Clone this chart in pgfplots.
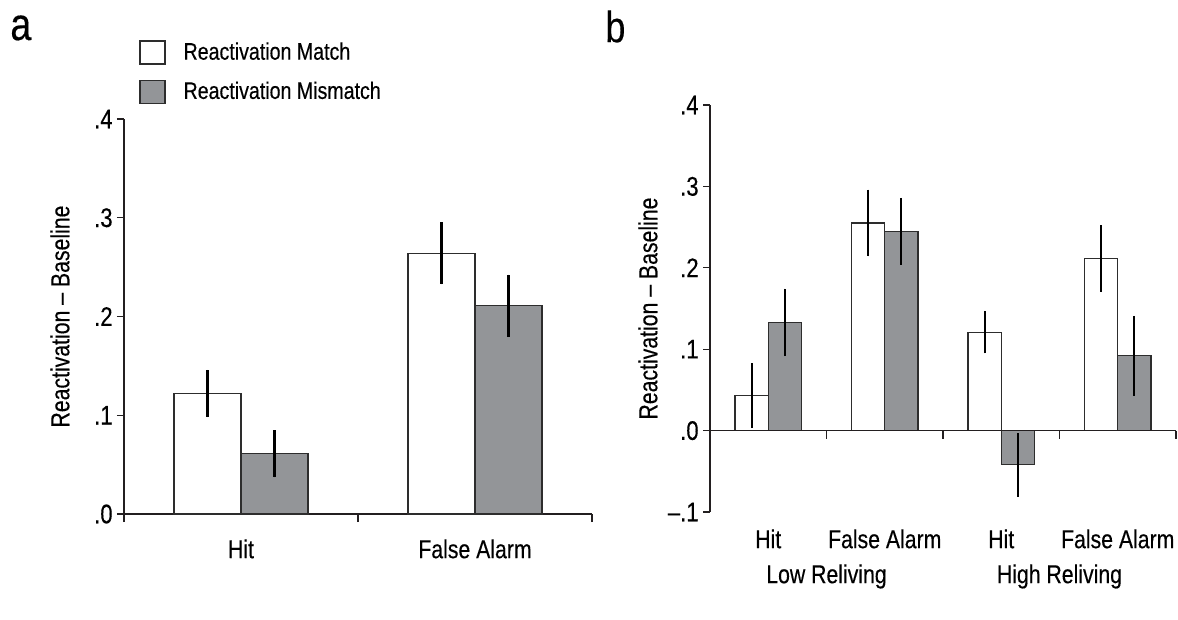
\documentclass[border=0pt]{standalone}
\usepackage{fontspec}
\setmainfont{Liberation Sans}[FakeStretch=0.82, FakeBold=0.3]
\usepackage{pgfplots}
\pgfplotsset{compat=1.18}
\definecolor{bargrey}{RGB}{147,149,152}
\definecolor{barline}{RGB}{45,45,45}
\definecolor{axisgrey}{RGB}{35,31,32}
\pgfplotsset{
  panel/.style={
    scale only axis,
    axis y line*=left,
    axis x line*=bottom,
    axis line style={axisgrey, line width=0.55bp},
    tick style={axisgrey, line width=0.55bp},
    tick align=outside,
    major tick length=3.5bp,
    minor tick length=4bp,
    major x tick style={draw=none},
    enlargelimits=false,
    clip=false,
    y tick label style={font=\fontsize{13.5}{15}\selectfont, inner sep=2bp},
    x tick label style={font=\fontsize{13}{15}\selectfont, inner sep=0pt, anchor=north},
    every axis y label/.style={at={(axis description cs:0,0.5)}, rotate=90, anchor=center, font=\fontsize{13}{15}\selectfont},
    ybar=0pt,
    error bars/error bar style={black, line width=1.05bp},
  },
  matchbar/.style={fill=white, draw=barline, line width=0.6bp, bar shift=-0.143, bar width=0.286,
    error bars/.cd, y dir=both, y explicit, error mark=none},
  mismatchbar/.style={fill=bargrey, draw=barline, line width=0.6bp, bar shift=0.143, bar width=0.286,
    error bars/.cd, y dir=both, y explicit, error mark=none},
}
\begin{document}
\begin{tikzpicture}
\path[use as bounding box] (0,0) rectangle (589bp,-310bp);
\node[anchor=north west, inner sep=0pt, font=\fontsize{23}{25}\selectfont] at (5bp,-7.5bp) {a};
\node[anchor=north west, inner sep=0pt, font=\fontsize{22}{24}\selectfont] at (302.5bp,-5bp) {b};
% Panel a
\begin{axis}[panel,
  at={(62bp,-257bp)}, anchor=south west,
  width=234bp, height=197.5bp,
  xmin=-0.5, xmax=1.5, ymin=0, ymax=0.4,
  ytick={0,0.1,0.2,0.3,0.4},
  yticklabels={.0,.1,.2,.3,.4},
  xtick={0,1}, xticklabels={Hit,False Alarm},
  minor xtick={-0.5,0.5,1.5},
  x tick label style={yshift=-9bp},
  ylabel={Reactivation – Baseline},
  ylabel style={yshift=32bp},
  legend style={at={(axis description cs:0.032,1.2)}, anchor=north west, draw=none, fill=none,
    inner sep=0pt, row sep=7.5bp, column sep=0bp,
    nodes={inner sep=0pt, anchor=west},
    font=\fontsize{12}{14}\selectfont},
  legend cell align=left,
  legend image code/.code={\draw[#1, line width=0.6bp] (0bp,-5.75bp) rectangle (12.5bp,5.75bp); \path (21.5bp,0) ;},
]
\addplot[matchbar] coordinates {(0,0.122) +- (0,0.024) (1,0.264) +- (0,0.0315)};
\addplot[mismatchbar] coordinates {(0,0.061) +- (0,0.024) (1,0.211) +- (0,0.0315)};
\legend{Reactivation Match, Reactivation Mismatch}
\end{axis}
% Panel b
\begin{axis}[panel,
  at={(355bp,-256bp)}, anchor=south west,
  width=233bp, height=203.5bp,
  xmin=-0.5, xmax=3.5, ymin=-0.1, ymax=0.4,
  x axis line style={draw=none},
  ytick={-0.1,0,0.1,0.2,0.3,0.4},
  yticklabels={–.1,.0,.1,.2,.3,.4},
  xtick={0,1,2,3}, xticklabels={Hit,False Alarm,Hit,False Alarm},
  x tick label style={yshift=-5bp},
  ylabel={Reactivation – Baseline},
  ylabel style={yshift=31bp},
]
\addplot[matchbar] coordinates {(0,0.043) +- (0,0.040) (1,0.255) +- (0,0.041) (2,0.121) +- (0,0.026) (3,0.211) +- (0,0.041)};
\addplot[mismatchbar] coordinates {(0,0.133) +- (0,0.0415) (1,0.245) +- (0,0.041) (2,-0.042) +- (0,0.039) (3,0.092) +- (0,0.049)};
\draw[axisgrey, line width=0.55bp] (axis cs:-0.5,0) -- (axis cs:3.5,0);
\draw[axisgrey, line width=0.55bp] (axis cs:0.5,0) -- ++(0pt,-4bp);
\draw[axisgrey, line width=0.55bp] (axis cs:1.5,0) -- ++(0pt,-4bp);
\draw[axisgrey, line width=0.55bp] (axis cs:2.5,0) -- ++(0pt,-4bp);
\draw[axisgrey, line width=0.55bp] (axis cs:3.5,0) -- ++(0pt,-4bp);
\node[anchor=north, inner sep=0pt, font=\fontsize{13}{15}\selectfont, yshift=-26bp] at (axis cs:0.5,-0.1) {Low Reliving};
\node[anchor=north, inner sep=0pt, font=\fontsize{13}{15}\selectfont, yshift=-26bp] at (axis cs:2.5,-0.1) {High Reliving};
\end{axis}
\end{tikzpicture}
\end{document}
